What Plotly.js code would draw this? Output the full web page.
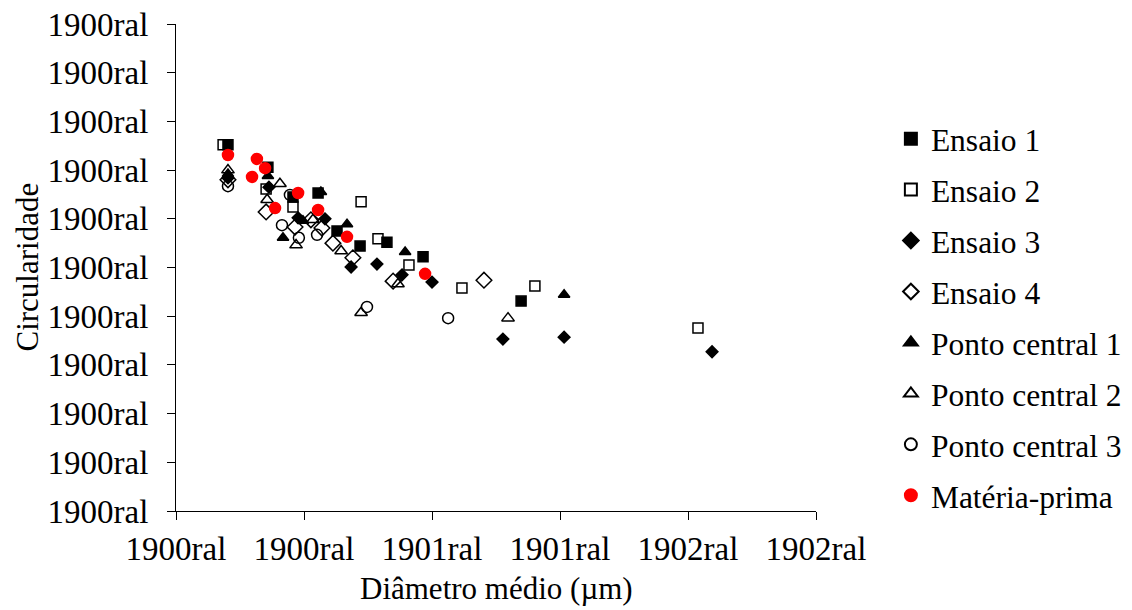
<!DOCTYPE html>
<html>
<head>
<meta charset="utf-8">
<script src="https://cdn.plot.ly/plotly-3.0.1.min.js"></script>
<style>html,body{margin:0;padding:0;background:#fff;}#chart{width:1132px;height:610px;}</style>
</head>
<body>
<div id="chart"></div>
<script>
// Tick labels as shown in the reference
const xTickVals = [0, 50, 100, 150, 200, 250];
const xTickLabels = ["1900ral", "1900ral", "1901ral", "1901ral", "1902ral", "1902ral"];
const yTickVals = [0, 0.1, 0.2, 0.3, 0.4, 0.5, 0.6, 0.7, 0.8, 0.9, 1.0];
const yTickLabels = ["1900ral", "1900ral", "1900ral", "1900ral", "1900ral", "1900ral", "1900ral", "1900ral", "1900ral", "1900ral", "1900ral"];

// Series (diâmetro médio, circularidade)
const ensaio1X = [20.3, 35.9, 45.7, 55.5, 62.9, 71.9, 82.4, 96.5, 134.8];
const ensaio1Y = [0.752, 0.706, 0.645, 0.653, 0.575, 0.544, 0.552, 0.522, 0.431];
const ensaio2X = [18.4, 35.2, 45.7, 72.3, 78.9, 91.0, 111.7, 140.2, 203.9];
const ensaio2Y = [0.752, 0.661, 0.624, 0.635, 0.559, 0.505, 0.458, 0.462, 0.376];
const ensaio3X = [20.3, 36.3, 47.7, 58.2, 68.4, 78.5, 88.3, 100.0, 127.7, 151.6, 209.4];
const ensaio3Y = [0.684, 0.665, 0.602, 0.600, 0.501, 0.507, 0.485, 0.470, 0.353, 0.357, 0.327];
const ensaio4X = [20.3, 35.2, 46.5, 52.7, 57.0, 61.3, 69.1, 84.8, 120.3];
const ensaio4Y = [0.680, 0.614, 0.583, 0.598, 0.581, 0.550, 0.520, 0.472, 0.474];
const pc1X = [20.3, 35.9, 56.6, 49.6, 41.8, 66.8, 89.5, 151.6];
const pc1Y = [0.692, 0.688, 0.655, 0.596, 0.561, 0.589, 0.532, 0.444];
const pc2X = [20.3, 35.6, 40.6, 46.9, 53.5, 64.5, 72.3, 86.7, 129.7];
const pc2Y = [0.700, 0.639, 0.672, 0.546, 0.598, 0.534, 0.407, 0.466, 0.396];
const pc3X = [20.3, 44.5, 41.4, 48.0, 55.1, 74.6, 106.3];
const pc3Y = [0.667, 0.649, 0.587, 0.561, 0.567, 0.419, 0.396];
const mpX = [20.3, 31.6, 34.8, 29.7, 47.7, 38.7, 55.5, 66.8, 97.3];
const mpY = [0.731, 0.723, 0.704, 0.686, 0.653, 0.622, 0.618, 0.563, 0.487];

const seriesNames = ["Ensaio 1", "Ensaio 2", "Ensaio 3", "Ensaio 4", "Ponto central 1", "Ponto central 2", "Ponto central 3", "Matéria-prima"];

function tr(i, x, y, symbol, color, lineColor, size) {
  return {
    type: 'scatter', mode: 'markers', x: x, y: y, name: seriesNames[i],
    legendgroup: 'g' + i,
    marker: {symbol: symbol, color: color, size: size, line: {color: lineColor, width: 1.5}},
    cliponaxis: false
  };
}

const data = [
  tr(0, ensaio1X, ensaio1Y, 'square', '#000', '#000', 10),
  tr(1, ensaio2X, ensaio2Y, 'square-open', '#000', '#000', 10),
  tr(2, ensaio3X, ensaio3Y, 'diamond', '#000', '#000', 9),
  tr(3, ensaio4X, ensaio4Y, 'diamond-open', '#000', '#000', 12),
  tr(4, pc1X, pc1Y, 'triangle-up', '#000', '#000', 10),
  tr(5, pc2X, pc2Y, 'triangle-up-open', '#000', '#000', 11),
  tr(6, pc3X, pc3Y, 'circle-open', '#000', '#000', 11),
  tr(7, mpX, mpY, 'circle', '#ff0000', '#ff0000', 11)
];

const fontFam = '"Liberation Serif", "Times New Roman", serif';

const layout = {
  width: 1132, height: 610,
  margin: {l: 176, r: 316, t: 24, b: 99, autoexpand: false},
  paper_bgcolor: '#fff', plot_bgcolor: '#fff',
  font: {family: fontFam, size: 30, color: '#000'},
  showlegend: true,
  legend: {
    x: 1.117, xanchor: 'left', y: 0.82, yanchor: 'top',
    font: {family: fontFam, size: 31.5, color: '#000'},
    traceorder: 'grouped', tracegroupgap: 7,
    itemsizing: 'constant', bgcolor: 'rgba(0,0,0,0)'
  },
  xaxis: {
    range: [0, 250], tickvals: xTickVals, ticktext: xTickLabels,
    showgrid: false, zeroline: false, showline: true, linecolor: '#000', linewidth: 1,
    ticks: 'outside', ticklen: 8, tickcolor: '#000', tickwidth: 1,
    tickfont: {family: fontFam, size: 33, color: '#000'}
  },
  yaxis: {
    range: [0, 1], tickvals: yTickVals, ticktext: yTickLabels,
    showgrid: false, zeroline: false, showline: true, linecolor: '#000', linewidth: 1,
    ticks: 'outside', ticklen: 8, tickcolor: '#000', tickwidth: 1,
    ticklabelstandoff: 12,
    tickfont: {family: fontFam, size: 33, color: '#000'}
  },
  annotations: [{
    text: 'Circularidade', xref: 'paper', yref: 'paper', x: -0.2328, y: 0.5,
    xanchor: 'center', yanchor: 'middle', textangle: -90, showarrow: false,
    font: {family: fontFam, size: 31, color: '#000'}
  }, {
    text: 'Diâmetro médio (µm)', xref: 'paper', yref: 'paper', x: 0.5, y: -0.199,
    xanchor: 'center', yanchor: 'bottom', showarrow: false,
    font: {family: fontFam, size: 31, color: '#000'}
  }]
};

Plotly.newPlot('chart', data, layout, {displayModeBar: false, staticPlot: true});
</script>
</body>
</html>
